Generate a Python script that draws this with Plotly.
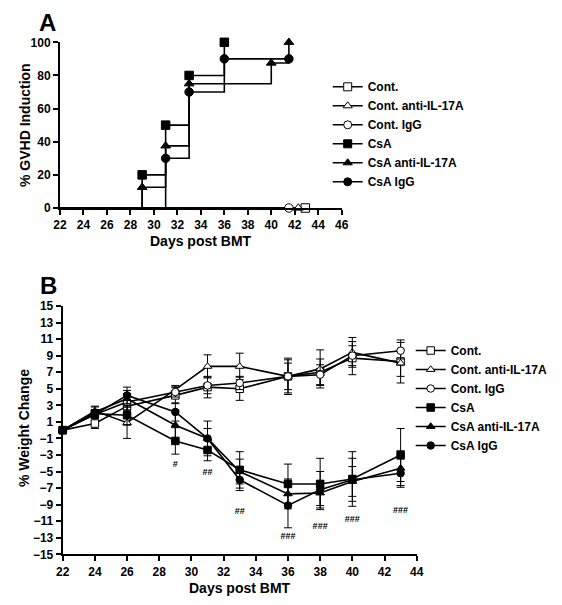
import plotly.graph_objects as go

# ---------------- Panel A data (% GVHD induction, Kaplan-Meier style) ----------------
a_cont_days = [22, 42.9]
a_cont = [0, 0]
a_cont_anti_days = [22, 42.3]
a_cont_anti = [0, 0]
a_cont_igg_days = [22, 41.5]
a_cont_igg = [0, 0]
a_csa_days = [22, 29, 31, 33, 36]
a_csa = [0, 20, 50, 80, 100]
a_csa_anti_days = [22, 29, 31, 33, 40, 41.5]
a_csa_anti = [0, 12.5, 37.5, 75, 87.5, 100]
a_csa_igg_days = [22, 31, 33, 36, 41.5]
a_csa_igg = [0, 30, 70, 90, 90]

# ---------------- Panel B data (% weight change) ----------------
b_days = [22, 24, 26, 29, 31, 33, 36, 38, 40, 43]
b_cont = [0, 0.8, 2.9, 4.2, 5.2, 5.0, 6.5, 7.0, 8.7, 8.3]
b_cont_err = [0, 0.6, 1.4, 1.0, 1.3, 1.4, 2.0, 1.6, 2.0, 2.6]
b_cont_anti = [0, 2.3, 0.9, 4.9, 7.7, 7.7, 6.5, 7.4, 9.4, 8.1]
b_cont_anti_err = [0, 0.6, 1.9, 0.5, 1.4, 1.6, 1.6, 2.3, 1.8, 1.6]
b_cont_igg = [0, 1.9, 3.4, 4.6, 5.4, 5.7, 6.5, 6.7, 9.0, 9.6]
b_cont_igg_err = [0, 0.5, 1.0, 0.6, 1.0, 0.8, 2.2, 1.2, 1.2, 1.0]
b_csa = [0, 2.0, 1.8, -1.3, -2.4, -4.8, -6.5, -6.5, -5.9, -3.0]
b_csa_err = [0, 0.5, 1.2, 1.6, 1.3, 2.2, 2.4, 3.1, 3.3, 3.2]
b_csa_anti = [0, 2.2, 3.8, 0.6, -1.0, -5.0, -7.7, -7.6, -6.2, -4.6]
b_csa_anti_err = [0, 0.6, 1.0, 1.8, 1.2, 1.5, 1.8, 1.5, 1.8, 2.1]
b_csa_igg = [0, 1.9, 4.2, 2.2, -1.0, -6.0, -9.1, -7.2, -6.0, -5.2]
b_csa_igg_err = [0, 0.5, 1.0, 1.1, 2.1, 1.3, 2.7, 2.2, 2.6, 1.7]

sig_days = [29, 31, 33, 36, 38, 40, 43]
sig_y = [-4.2, -5.1, -9.85, -12.9, -11.7, -10.8, -9.75]
sig_labels = ["#", "##", "##", "###", "###", "###", "###"]

names = ["Cont.", "Cont. anti-IL-17A", "Cont. IgG", "CsA", "CsA anti-IL-17A", "CsA IgG"]
symbols = ["square", "triangle-up", "circle", "square", "triangle-up", "circle"]
fills = ["white", "white", "white", "black", "black", "black"]

FONT = "Liberation Sans, Arial, sans-serif"
# page body has an 8px margin; the figure is sized so the page fits the window exactly
OFF = 8
FW, FH = 562 - 2 * OFF, 605 - 2 * OFF


def px(x):
    return (x - OFF) / FW


def py(y):
    return 1 - (y - OFF) / FH


fig = go.Figure()

# Panel A
a_sets = [
    (a_cont_days, a_cont),
    (a_cont_anti_days, a_cont_anti),
    (a_cont_igg_days, a_cont_igg),
    (a_csa_days, a_csa),
    (a_csa_anti_days, a_csa_anti),
    (a_csa_igg_days, a_csa_igg),
]
for (xs, ys), name, sym, fc in zip(a_sets, names, symbols, fills):
    fig.add_trace(go.Scatter(x=xs, y=ys, mode="lines", line=dict(color="black", width=1.6, shape="hv"),
                             showlegend=False, xaxis="x", yaxis="y", cliponaxis=False, hoverinfo="skip"))
    fig.add_trace(go.Scatter(x=xs[1:], y=ys[1:], mode="markers",
                             marker=dict(symbol=sym, size=8.5, color=fc, line=dict(color="black", width=1)),
                             showlegend=False, xaxis="x", yaxis="y", cliponaxis=False))
    fig.add_trace(go.Scatter(x=[None], y=[None], mode="lines+markers", name=name,
                             line=dict(color="black", width=1.6),
                             marker=dict(symbol=sym, size=8, color=fc, line=dict(color="black", width=1)),
                             xaxis="x", yaxis="y", legend="legend"))

# Panel B
b_sets = [
    (b_cont, b_cont_err), (b_cont_anti, b_cont_anti_err), (b_cont_igg, b_cont_igg_err),
    (b_csa, b_csa_err), (b_csa_anti, b_csa_anti_err), (b_csa_igg, b_csa_igg_err),
]
for (ys, es), name, sym, fc in zip(b_sets, names, symbols, fills):
    fig.add_trace(go.Scatter(x=b_days, y=ys, mode="lines+markers", name=name,
                             error_y=dict(type="data", array=es, color="black", thickness=1, width=4),
                             line=dict(color="black", width=1.6),
                             marker=dict(symbol=sym, size=7.5, color=fc, line=dict(color="black", width=1)),
                             xaxis="x2", yaxis="y2", legend="legend2", cliponaxis=False))

fig.add_trace(go.Scatter(x=sig_days, y=sig_y, mode="text", text=sig_labels,
                         textfont=dict(family=FONT, size=9, color="black", weight="bold"),
                         showlegend=False, xaxis="x2", yaxis="y2", cliponaxis=False))

axis_common = dict(showline=True, linewidth=2, linecolor="black", ticks="outside", ticklen=5,
                   tickwidth=1.5, tickcolor="black", showgrid=False, zeroline=False, automargin=False,
                   tickfont=dict(family=FONT, size=12, color="black", weight="bold"))

fig.update_layout(
    width=FW, height=FH,
    margin=dict(l=0, r=0, t=0, b=0, autoexpand=False),
    paper_bgcolor="white", plot_bgcolor="white",
    xaxis=dict(domain=[px(60), px(341.7)], range=[22, 46], tickvals=list(range(22, 47, 2)),
               anchor="y", **axis_common),
    yaxis=dict(domain=[py(208), py(42.3)], range=[0, 100], tickvals=list(range(0, 101, 20)),
               anchor="x", **axis_common),
    xaxis2=dict(domain=[px(62.7), px(416.7)], range=[22, 44], tickvals=list(range(22, 45, 2)),
                anchor="y2", **axis_common),
    yaxis2=dict(domain=[py(554.3), py(306)], range=[-15, 15], tickvals=list(range(-15, 16, 2)),
                anchor="x2", **axis_common),
    legend=dict(x=px(327.7), y=py(72.3), xanchor="left", yanchor="top", bgcolor="rgba(0,0,0,0)",
                font=dict(family=FONT, size=12, color="black", weight="bold"), tracegroupgap=0),
    legend2=dict(x=px(410.7), y=py(336), xanchor="left", yanchor="top", bgcolor="rgba(0,0,0,0)",
                 font=dict(family=FONT, size=12, color="black", weight="bold"), tracegroupgap=0),
    showlegend=True,
)

ann_font = dict(family=FONT, color="black", weight="bold")
ann_common = dict(xref="paper", yref="paper", showarrow=False, xanchor="center", yanchor="middle")
fig.add_annotation(text="A", x=px(47), y=py(22), font=dict(size=24, **ann_font), **ann_common)
fig.add_annotation(text="B", x=px(48), y=py(285), font=dict(size=24, **ann_font), **ann_common)
fig.add_annotation(text="% GVHD Induction", x=px(25), y=py(125), textangle=-90,
                   font=dict(size=14, **ann_font), **ann_common)
fig.add_annotation(text="Days post BMT", x=px(200.8), y=py(241), font=dict(size=14, **ann_font), **ann_common)
fig.add_annotation(text="% Weight Change", x=px(24), y=py(428), textangle=-90,
                   font=dict(size=14, **ann_font), **ann_common)
fig.add_annotation(text="Days post BMT", x=px(240), y=py(588), font=dict(size=14, **ann_font), **ann_common)

fig.write_html("out.html")
